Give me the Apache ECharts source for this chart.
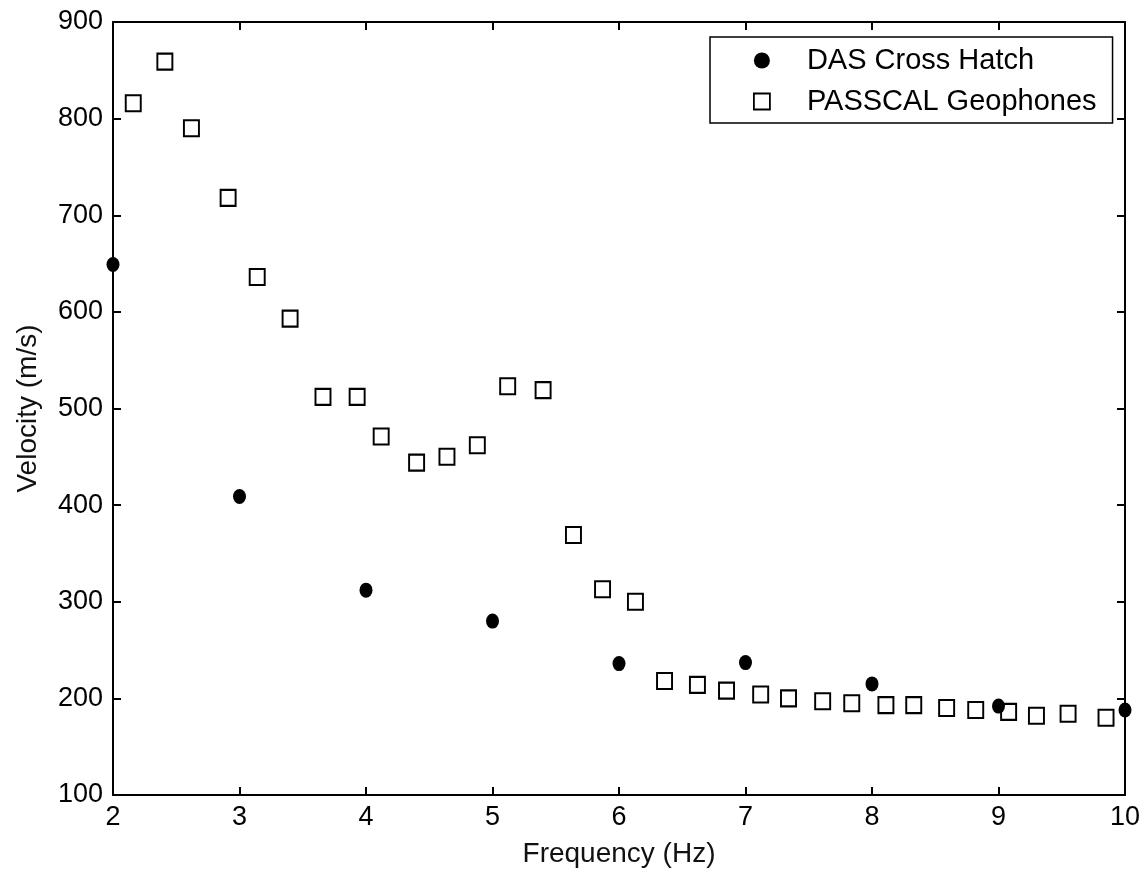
<!DOCTYPE html>
<html>
<head>
<meta charset="utf-8">
<script src="https://cdn.jsdelivr.net/npm/echarts@6/dist/echarts.min.js"></script>
<style>html,body{margin:0;padding:0;background:#fff;}#c{width:1144px;height:873px;}</style>
</head>
<body>
<div id="c"></div>
<script>
const dasFreq = [2, 3, 4, 5, 6, 7, 8, 9, 10];
const dasVel = [649, 409, 312, 280, 236, 237, 215, 192, 188];
const geoFreq = [2.16, 2.41, 2.62, 2.91, 3.14, 3.40, 3.66, 3.93, 4.12, 4.40, 4.64, 4.88, 5.12, 5.40, 5.64, 5.87, 6.13, 6.36, 6.62, 6.85, 7.12, 7.34, 7.61, 7.84, 8.11, 8.33, 8.59, 8.82, 9.08, 9.30, 9.55, 9.85];
const geoVel = [816, 859, 790, 718, 636, 593, 512, 512, 471, 444, 450, 462, 523, 519, 369, 313, 300, 218, 214, 208, 204, 200, 197, 195, 193, 193, 190, 188, 186, 182, 184, 180];
const seriesNames = ['DAS Cross Hatch', 'PASSCAL Geophones'];
const xTitle = 'Frequency (Hz)';
const yTitle = 'Velocity (m/s)';

const font = 'Liberation Sans, Arial, sans-serif';
const chart = echarts.init(document.getElementById('c'));
const axisCommon = {
  axisLine: { show: true, onZero: false, lineStyle: { color: '#000', width: 2 } },
  axisTick: { show: true, inside: true, length: 8, lineStyle: { color: '#000', width: 2 } },
  splitLine: { show: false }
};
chart.setOption({
  animation: false,
  backgroundColor: '#fff',
  grid: { left: 113, right: 19, top: 22, bottom: 77, containLabel: false },
  legend: {
    orient: 'vertical',
    left: 710, top: 37,
    backgroundColor: '#fff',
    borderColor: '#000', borderWidth: 1.5,
    padding: [9, 16, 7, 43],
    itemGap: 12,
    itemWidth: 16, itemHeight: 16,
    textStyle: { fontFamily: font, fontSize: 29, lineHeight: 28, color: '#000', padding: [0, 0, 0, 32] },
    data: [
      { name: seriesNames[0], icon: 'circle', itemStyle: { color: '#000', borderWidth: 0 } },
      { name: seriesNames[1], icon: 'rect', itemStyle: { color: '#fff', borderColor: '#000', borderWidth: 1.8 } }
    ]
  },
  xAxis: [
    Object.assign({}, axisCommon, {
      type: 'value', min: 2, max: 10, interval: 1, position: 'bottom',
      name: xTitle, nameLocation: 'middle', nameGap: 45,
      nameTextStyle: { fontFamily: font, fontSize: 28, color: '#111' },
      axisLabel: { fontFamily: font, fontSize: 27, color: '#000', margin: 9 }
    }),
    Object.assign({}, axisCommon, {
      type: 'value', min: 2, max: 10, interval: 1, position: 'top',
      axisLabel: { show: false }
    })
  ],
  yAxis: [
    Object.assign({}, axisCommon, {
      type: 'value', min: 100, max: 900, interval: 100, position: 'left',
      name: yTitle, nameLocation: 'middle', nameGap: 71,
      nameTextStyle: { fontFamily: font, fontSize: 28, color: '#111' },
      axisLabel: { fontFamily: font, fontSize: 27, color: '#000', margin: 10 }
    }),
    Object.assign({}, axisCommon, {
      type: 'value', min: 100, max: 900, interval: 100, position: 'right',
      axisLabel: { show: false }
    })
  ],
  series: [
    {
      name: seriesNames[0], type: 'scatter',
      data: dasFreq.map((f, i) => [f, dasVel[i]]),
      symbol: 'circle', symbolSize: [13, 15],
      itemStyle: { color: '#000', opacity: 1 },
      z: 3
    },
    {
      name: seriesNames[1], type: 'scatter',
      data: geoFreq.map((f, i) => [f, geoVel[i]]),
      symbol: 'rect', symbolSize: [15, 16],
      itemStyle: { color: '#fff', borderColor: '#000', borderWidth: 2, opacity: 1 },
      z: 2
    }
  ]
});
</script>
</body>
</html>
